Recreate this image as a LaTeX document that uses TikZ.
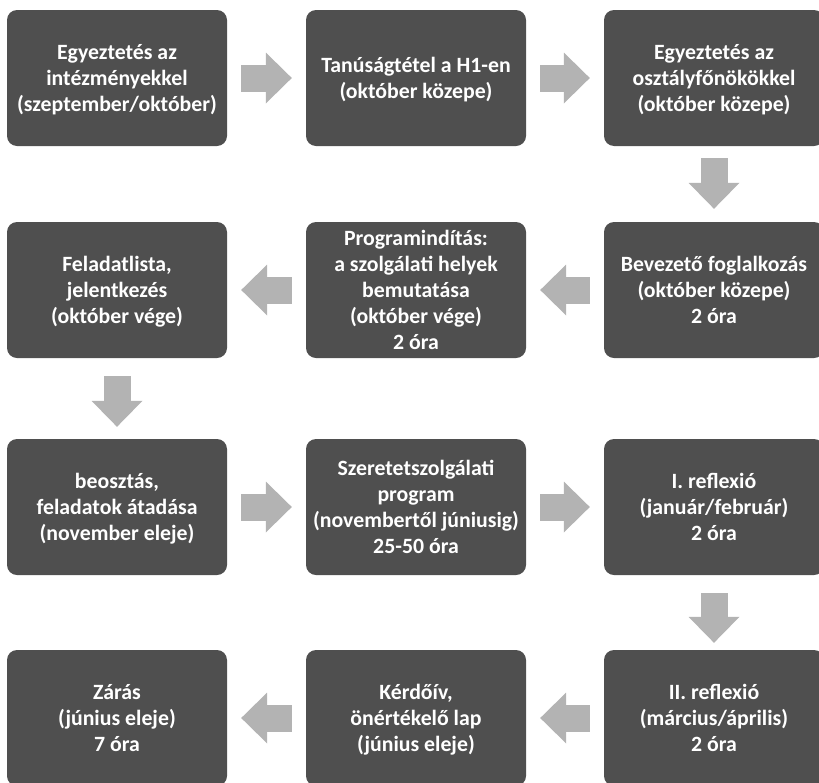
\documentclass[tikz,border=0pt]{standalone}
\usepackage{fontspec}
\setmainfont{Carlito}
\usetikzlibrary{arrows.meta}
\definecolor{boxgray}{HTML}{4F4F4F}
\definecolor{arrowgray}{HTML}{B3B3B3}

\begin{document}
\begin{tikzpicture}[x=1pt, y=-1pt, line join=round,
	stage/.style={fill=boxgray, rounded corners=10pt, minimum width=220pt, minimum height=136pt,
		align=center, text=white, inner sep=0pt, text depth=0pt,
		font=\bfseries\fontsize{21.8}{26}\selectfont},
	flow/.style={draw=arrowgray, line width=27pt,
		-{Triangle[width=51pt, length=26pt, line width=0pt]}, shorten <=14pt, shorten >=14pt}]
\clip (0,0) rectangle (819,782);
%========================
% Row 1
%========================
\node[stage] (intezmeny) at (117,78) {Egyeztetés az\\intézményekkel\\(szeptember/október)};
\node[stage] (tanusag) at (416,78) {Tanúságtétel a H1-en\\(október közepe)};
\node[stage] (osztaly) at (714,78) {Egyeztetés az\\osztályfőnökökkel\\(október közepe)};
%========================
% Row 2
%========================
\node[stage] (bevezeto) at (714,290) {Bevezető foglalkozás\\(október közepe)\\2 óra};
\node[stage] (program) at (416,290) {Programindítás:\\a szolgálati helyek\\bemutatása\\(október vége)\\2 óra};
\node[stage] (feladat) at (117,290) {Feladatlista,\\jelentkezés\\(október vége)};
%========================
% Row 3
%========================
\node[stage] (beosztas) at (117,507) {beosztás,\\feladatok átadása\\(november eleje)};
\node[stage] (szolgalat) at (416,507) {Szeretetszolgálati\\program\\(novembertől júniusig)\\25-50 óra};
\node[stage] (reflexio1) at (714,507) {I. reflexió\\(január/február)\\2 óra};
%========================
% Row 4
%========================
\node[stage] (reflexio2) at (714,718) {II. reflexió\\(március/április)\\2 óra};
\node[stage] (kerdoiv) at (416,718) {Kérdőív,\\önértékelő lap\\(június eleje)};
\node[stage] (zaras) at (117,718) {Zárás\\(június eleje)\\7 óra};

% arrows
\draw[flow] (intezmeny) -- (tanusag);
\draw[flow] (tanusag) -- (osztaly);
\draw[flow, shorten <=12pt, shorten >=13pt] (osztaly) -- (bevezeto);
\draw[flow] (bevezeto) -- (program);
\draw[flow] (program) -- (feladat);
\draw[flow, shorten <=18pt, shorten >=12pt] (feladat) -- (beosztas);
\draw[flow] (beosztas) -- (szolgalat);
\draw[flow] (szolgalat) -- (reflexio1);
\draw[flow, shorten <=18pt, shorten >=7pt] (reflexio1) -- (reflexio2);
\draw[flow] (reflexio2) -- (kerdoiv);
\draw[flow] (kerdoiv) -- (zaras);
\end{tikzpicture}
\end{document}
